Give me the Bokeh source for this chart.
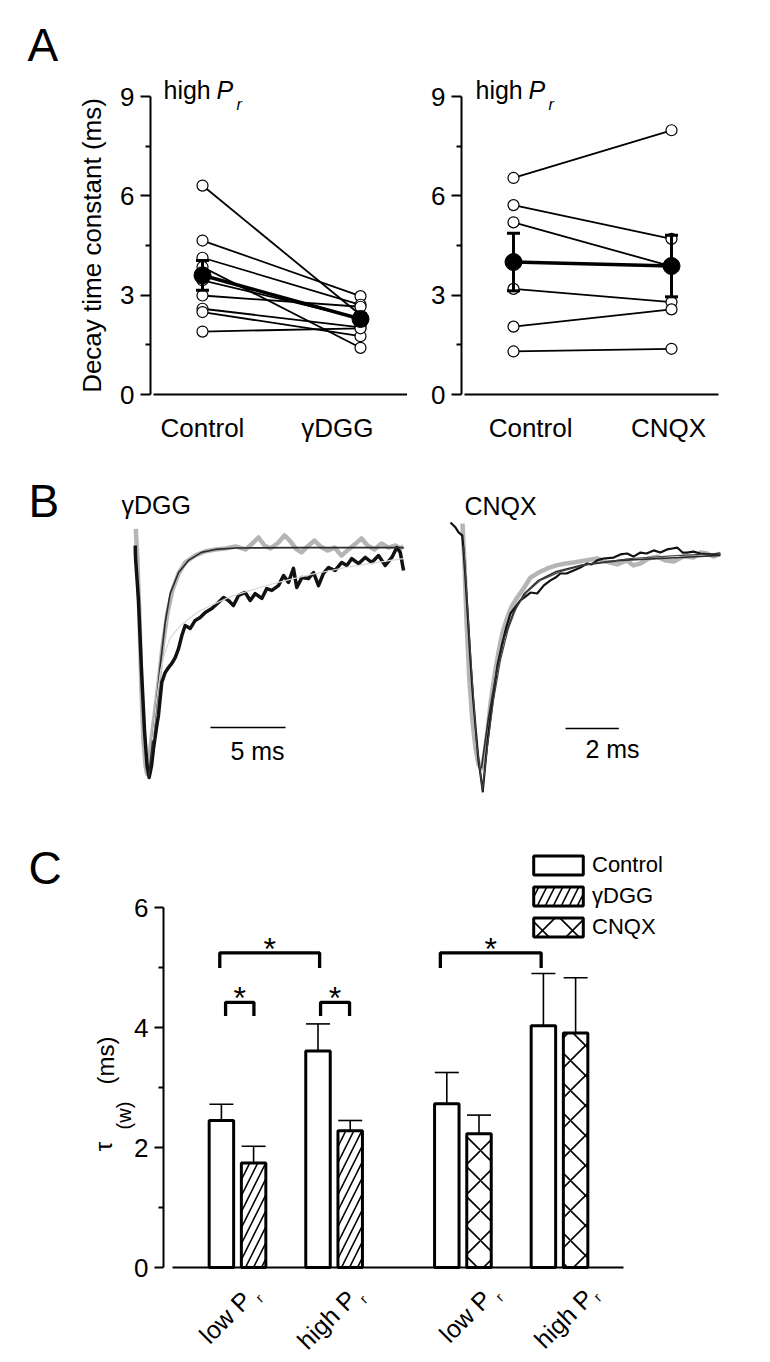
import math
from bokeh.plotting import figure
from bokeh.layouts import column, row
from bokeh.models import (Range1d, FixedTicker, Label, Whisker, TeeHead,
                          ColumnDataSource, Legend, LegendItem)
from bokeh.embed import file_html
from bokeh.resources import INLINE
from bokeh.core.properties import value

FONT = "Liberation Sans"

# ---------------- DATA ----------------
# Panel A (decay time constant, ms), paired cells
a_x = [0, 1]
a1_labels = ["Control", "\u03b3DGG"]
a1_control = [6.31, 4.65, 4.13, 3.85, 3.45, 2.99, 2.59, 2.49, 1.90]
a1_dgg = [2.40, 2.97, 2.71, 1.41, 2.30, 2.65, 2.03, 1.76, 2.00]
a1_mean = [3.60, 2.28]
a1_sem = [0.45, 0.16]

a2_labels = ["Control", "CNQX"]
a2_control = [6.54, 5.72, 5.20, 3.19, 2.05, 1.30]
a2_cnqx = [7.98, 4.70, 3.87, 2.79, 2.57, 1.38]
a2_mean = [4.00, 3.88]
a2_sem = [0.87, 0.93]

a_yticks = [0, 3, 6, 9]
a_yminor = [1.5, 4.5, 7.5]

# Panel B traces (time in ms, amplitude normalised to peak)
b1_ctrl_t = [0.02, 0.13, 0.27, 0.40, 0.53, 0.67, 0.77, 0.87, 1.00, 1.13, 1.33, 1.53, 1.80, 2.13, 2.47, 2.87,
             3.33, 4.00, 4.67, 5.33, 6.00, 6.67, 7.33, 7.80, 8.20, 8.60, 9.00, 9.53, 9.93, 10.33, 10.73, 11.07,
             11.47, 11.93, 12.33, 12.80, 13.27, 13.73, 14.20, 14.60, 15.07, 15.47, 15.93, 16.40, 16.87, 17.33,
             17.67, 17.87]
b1_ctrl_a = [0.086, -0.052, -0.314, -0.620, -0.838, -0.948, -0.983, -0.974, -0.870, -0.800, -0.700, -0.590,
             -0.430, -0.280, -0.180, -0.110, -0.060, -0.030, -0.012, -0.004, 0.0, 0.009, -0.004, 0.022, 0.048,
             0.013, 0.0, 0.026, 0.057, 0.031, -0.004, -0.017, 0.009, 0.035, 0.009, -0.009, 0.004, -0.031,
             -0.004, 0.017, 0.044, 0.013, -0.004, 0.022, 0.004, 0.013, 0.0, 0.009]
b1_ctrl_fit_t = [0.87, 1.09, 1.31, 1.65, 1.98, 2.31, 2.87, 3.53, 4.40, 5.33, 6.67, 11.0, 17.87]
b1_ctrl_fit_a = [-1.0, -0.873, -0.729, -0.511, -0.323, -0.197, -0.105, -0.052, -0.017, -0.004, 0.002, 0.004, 0.004]

b1_dgg_t = [-0.02, 0.0, 0.20, 0.40, 0.60, 0.77, 0.91, 1.07, 1.20, 1.42, 1.53, 1.75, 1.98, 2.20, 2.42, 2.65,
            2.87, 3.09, 3.31, 3.65, 3.98, 4.31, 4.65, 5.09, 5.53, 5.87, 6.20, 6.53, 6.87, 7.31, 7.65, 7.98,
            8.42, 8.75, 9.09, 9.53, 9.87, 10.20, 10.53, 10.75, 11.09, 11.53, 11.87, 12.20, 12.53, 12.87,
            13.31, 13.75, 14.09, 14.42, 14.87, 15.31, 15.75, 16.20, 16.65, 17.09, 17.42, 17.65, 17.87]
b1_dgg_a = [0.013, -0.039, -0.227, -0.533, -0.795, -0.948, -1.0, -0.948, -0.873, -0.773, -0.729, -0.585,
            -0.541, -0.520, -0.502, -0.476, -0.437, -0.380, -0.336, -0.349, -0.314, -0.301, -0.279, -0.262,
            -0.236, -0.214, -0.227, -0.249, -0.205, -0.192, -0.227, -0.197, -0.218, -0.175, -0.183, -0.162,
            -0.118, -0.148, -0.087, -0.170, -0.127, -0.131, -0.105, -0.162, -0.109, -0.083, -0.096, -0.061,
            -0.074, -0.044, -0.066, -0.039, -0.061, -0.031, -0.074, -0.039, 0.004, -0.017, -0.096]
b1_dgg_fit_t = [1.13, 1.40, 1.67, 2.0, 2.33, 3.0, 3.67, 4.33, 5.33, 6.33, 7.67, 9.0, 10.33, 11.67, 13.0,
                14.33, 15.67, 17.0, 17.87]
b1_dgg_fit_a = [-0.838, -0.664, -0.533, -0.445, -0.389, -0.336, -0.301, -0.271, -0.240, -0.210, -0.183,
                -0.157, -0.135, -0.114, -0.096, -0.079, -0.066, -0.052, -0.044]
b1_scalebar_ms = 5

b2_ctrl_t = [0.45, 0.52, 0.60, 0.71, 0.82, 0.94, 1.05, 1.16, 1.27, 1.39, 1.50, 1.65, 1.81, 1.95, 2.13, 2.29,
             2.50, 2.74, 3.00, 3.30, 3.63, 3.97, 4.31, 4.62, 5.06, 5.50, 5.85, 6.25, 6.62, 6.86, 7.12, 7.42,
             7.75, 8.06, 8.37, 8.74, 9.12, 9.37, 9.62, 9.86, 10.12]
b2_ctrl_a = [0.126, -0.029, -0.282, -0.534, -0.702, -0.819, -0.887, -0.903, -0.849, -0.744, -0.630, -0.513,
             -0.408, -0.332, -0.269, -0.223, -0.185, -0.147, -0.101, -0.080, -0.063, -0.050, -0.042, -0.038,
             -0.029, -0.021, -0.034, -0.046, -0.029, -0.050, -0.042, -0.021, -0.013, -0.029, -0.034, -0.013,
             -0.017, 0.004, 0.0, -0.013, 0.0]
b2_ctrl_fit_t = [1.16, 1.42, 1.72, 2.02, 2.36, 2.77, 3.30, 3.97, 4.87, 6.37, 8.62, 10.12]
b2_ctrl_fit_a = [-0.903, -0.693, -0.500, -0.353, -0.248, -0.168, -0.113, -0.076, -0.050, -0.029, -0.017, -0.008]

b2_cnqx_t = [0.0, 0.19, 0.31, 0.44, 0.49, 0.56, 0.66, 0.75, 0.84, 0.94, 1.05, 1.12, 1.21, 1.29, 1.38, 1.50,
             1.62, 1.76, 1.94, 2.10, 2.25, 2.44, 2.62, 2.81, 3.00, 3.25, 3.50, 3.75, 3.94, 4.12, 4.35, 4.62,
             4.87, 5.12, 5.29, 5.50, 5.74, 6.12, 6.37, 6.62, 6.86, 7.12, 7.35, 7.62, 7.87, 8.12, 8.32, 8.50,
             8.70, 8.87, 9.11, 9.37, 9.75, 10.12]
b2_cnqx_a = [0.130, 0.109, 0.088, 0.076, 0.013, -0.101, -0.282, -0.450, -0.597, -0.731, -0.870, -0.924, -1.0,
             -0.903, -0.798, -0.685, -0.588, -0.471, -0.378, -0.307, -0.252, -0.223, -0.197, -0.181, -0.164,
             -0.168, -0.134, -0.113, -0.101, -0.084, -0.084, -0.071, -0.059, -0.042, -0.046, -0.029, -0.021,
             -0.017, -0.004, 0.0, -0.013, 0.004, 0.0, 0.013, 0.004, 0.017, 0.021, 0.025, 0.004, 0.004, 0.008,
             0.0, -0.004, 0.0]
b2_cnqx_fit_t = [0.49, 0.60, 0.79, 0.97, 1.20, 1.39, 1.61, 1.87, 2.17, 2.47, 2.85, 3.37, 4.12, 5.25, 6.75,
                 8.62, 10.12]
b2_cnqx_fit_a = [0.034, -0.155, -0.492, -0.786, -0.996, -0.807, -0.618, -0.450, -0.315, -0.227, -0.164,
                 -0.113, -0.076, -0.042, -0.021, -0.008, 0.0]
b2_scalebar_ms = 2

# Panel C (tau_w, ms)
c_group_x = [0, 3, 7, 10]
c_group_labels = ["low P", "high P", "low P", "high P"]
c_control = [2.45, 3.61, 2.73, 4.03]
c_control_err = [0.27, 0.45, 0.52, 0.87]
c_dgg_groups = [0, 1]
c_dgg = [1.74, 2.28]
c_dgg_err = [0.28, 0.17]
c_cnqx_groups = [2, 3]
c_cnqx = [2.23, 3.91]
c_cnqx_err = [0.31, 0.92]
c_yticks = [0, 2, 4, 6]
c_yminor = [1, 3, 5]
# significance brackets: start, end, height, leg bottom
c_br_x0 = [-0.55, -0.37, 2.58, 6.30]
c_br_x1 = [2.55, 0.51, 3.48, 9.43]
c_br_top = [5.245, 4.42, 4.42, 5.245]
c_br_leg = [4.99, 4.19, 4.19, 4.99]

# ---------------- HELPERS ----------------
BASE_SHIFT = 0.39  # em offset of the rendered alphabetic baseline below the anchor


def lin(p0, s):
    return lambda px: (px - p0) / s


def linv(p0, s):
    return lambda py: (p0 - py) / s


def make_fig(canvas, xm, ym, axes=True):
    cl, ct, cr, cb = canvas
    p = figure(width=cr - cl, height=cb - ct,
               x_range=Range1d(xm(cl), xm(cr)), y_range=Range1d(ym(cb), ym(ct)),
               output_backend="svg", toolbar_location=None,
               x_axis_location="below" if axes else None,
               y_axis_location="left" if axes else None,
               min_border=0, min_border_left=0, min_border_right=0,
               min_border_top=0, min_border_bottom=0)
    p.outline_line_color = None
    for g in p.grid:
        g.visible = False
    p.background_fill_color = "white"
    p.border_fill_color = "white"
    return p


def lab(p, xm, ym, px, py, text, size, style="normal", align="left",
        baseline="alphabetic", angle=0.0):
    if baseline == "alphabetic":
        d = BASE_SHIFT * size
        px = px - d * math.sin(angle)
        py = py - d * math.cos(angle)
    p.add_layout(Label(x=xm(px), y=ym(py), text=text, text_font=FONT,
                       text_font_size=f"{size}px", text_font_style=style,
                       text_align=align, text_baseline=baseline, angle=angle,
                       text_color="black"))


def style_yaxis(ax, ticks, minor, size, tick_out, minor_out):
    ax.ticker = FixedTicker(ticks=ticks, minor_ticks=minor)
    ax.axis_line_width = 2
    ax.axis_line_color = "black"
    ax.major_tick_line_width = 2
    ax.minor_tick_line_width = 2
    ax.major_tick_line_color = "black"
    ax.minor_tick_line_color = "black"
    ax.major_tick_in = 0
    ax.minor_tick_in = 0
    ax.major_tick_out = tick_out
    ax.minor_tick_out = minor_out
    ax.major_label_text_font = FONT
    ax.major_label_text_font_size = size
    ax.major_label_text_color = "black"
    ax.major_label_standoff = 6
    ax.axis_label_text_font = FONT
    ax.axis_label_text_font_style = "normal"
    ax.axis_label_text_color = "black"


# ---------------- PANEL A ----------------
AY = linv(394, 298 / 9)


def panel_a(canvas, yaxis_px, xend_px, x0px, ctrl, drug, mean, sem, labels, label_pos, letter,
            high_px, ylabel):
    xm = lin(x0px, 158)
    p = make_fig(canvas, xm, AY)
    ya = p.yaxis[0]
    style_yaxis(ya, a_yticks, a_yminor, "26px", 10, 5)
    ya.fixed_location = xm(yaxis_px)
    ya.bounds = (0, 9)
    if ylabel:
        ya.axis_label = ylabel
        ya.axis_label_text_font_size = "26px"
        ya.axis_label_standoff = 10
    xa = p.xaxis[0]
    xa.fixed_location = 0
    xa.ticker = FixedTicker(ticks=label_pos)
    xa.major_label_overrides = {lp: lb for lp, lb in zip(label_pos, labels)}
    xa.major_tick_line_color = None
    xa.minor_tick_line_color = None
    xa.axis_line_width = 2
    xa.axis_line_color = "black"
    xa.bounds = (xm(yaxis_px + 3), xm(xend_px))
    xa.major_label_text_font = FONT
    xa.major_label_text_font_size = "26px"
    xa.major_label_text_color = "black"
    xa.major_label_standoff = 12

    n = len(ctrl)
    p.segment(x0=[a_x[0]] * n, y0=ctrl, x1=[a_x[1]] * n, y1=drug, line_width=1.8, line_color="black")
    p.scatter(x=[a_x[0]] * n, y=ctrl, size=11, fill_color="white", line_color="black", line_width=1.2)
    p.scatter(x=[a_x[1]] * n, y=drug, size=11, fill_color="white", line_color="black", line_width=1.2)
    p.line(x=a_x, y=mean, line_width=3.5, line_color="black")
    src = ColumnDataSource(dict(x=a_x, lo=[m - s for m, s in zip(mean, sem)],
                                hi=[m + s for m, s in zip(mean, sem)]))
    p.add_layout(Whisker(base="x", lower="lo", upper="hi", source=src, line_width=3,
                         line_color="black",
                         upper_head=TeeHead(size=13, line_width=3, line_color="black"),
                         lower_head=TeeHead(size=13, line_width=3, line_color="black"),
                         level="glyph"))
    p.scatter(x=a_x, y=mean, size=17, fill_color="black", line_color="black")

    if letter:
        lab(p, xm, AY, 27, 62, letter, 46)
    hx = high_px
    lab(p, xm, AY, hx, 99, "high", 25)
    lab(p, xm, AY, hx + 53, 99, "P", 25, style="italic")
    lab(p, xm, AY, hx + 73, 110, "r", 16, style="italic")
    return p


a1 = panel_a((0, 0, 407, 460), 150, 407, 202, a1_control, a1_dgg, a1_mean, a1_sem,
             a1_labels, [0, 0.854], "A", 163, "Decay time constant (ms)")
a2 = panel_a((407, 0, 768, 460), 461, 718, 513, a2_control, a2_cnqx, a2_mean, a2_sem,
             a2_labels, [0.108, 0.981], None, 475, None)

# ---------------- PANEL B ----------------
GRAY = "#b5b5b5"


def panel_b(canvas, x0px, pxms, y0px, pxamp, ctrl_t, ctrl_a, drug_t, drug_a, cfit_t, cfit_a,
            dfit_t, dfit_a, title, title_px, bar_ms, bar_px, bar_label, bar_label_px, letter, drug_w):
    xm = lin(x0px, pxms)
    ym = linv(y0px, pxamp)
    p = make_fig(canvas, xm, ym, axes=False)
    p.line(ctrl_t, ctrl_a, line_color=GRAY, line_width=4.5, line_join="round")
    p.line(drug_t, drug_a, line_color="#111111", line_width=drug_w, line_join="round")
    p.line(cfit_t, cfit_a, line_color="#2b2b2b", line_width=1.6)
    p.line(dfit_t, dfit_a, line_color="#444444" if drug_w < 3 else "#d8d8d8", line_width=1.2)
    bx = xm(bar_px[0])
    p.segment(x0=[bx], y0=[ym(bar_px[1])], x1=[bx + bar_ms], y1=[ym(bar_px[1])],
              line_color="black", line_width=1.6)
    lab(p, xm, ym, bar_label_px[0], bar_label_px[1], bar_label, 25, align="center")
    lab(p, xm, ym, title_px[0], title_px[1], title, 25)
    if letter:
        lab(p, xm, ym, 28, 518, letter, 46)
    return p


b1 = panel_b((0, 460, 410, 820), 135, 15, 548, 229, b1_ctrl_t, b1_ctrl_a, b1_dgg_t, b1_dgg_a,
             b1_ctrl_fit_t, b1_ctrl_fit_a, b1_dgg_fit_t, b1_dgg_fit_a, "\u03b3DGG", (121, 514),
             b1_scalebar_ms, (210, 727), "5 ms", (257, 760), "B", 3.5)
b2 = panel_b((410, 460, 768, 820), 450, 26.67, 553, 238, b2_ctrl_t, b2_ctrl_a, b2_cnqx_t, b2_cnqx_a,
             b2_ctrl_fit_t, b2_ctrl_fit_a, b2_cnqx_fit_t, b2_cnqx_fit_a, "CNQX", (464, 515),
             b2_scalebar_ms, (565, 728), "2 ms", (612, 758), None, 2.2)

# ---------------- PANEL C ----------------
CX = lin(237, 32.2)
CY = linv(1267, 60)
pc = make_fig((0, 820, 768, 1360), CX, CY)
ya = pc.yaxis[0]
style_yaxis(ya, c_yticks, c_yminor, "26px", 9, 5)
ya.fixed_location = CX(163)
ya.bounds = (0, 6)
xa = pc.xaxis[0]
xa.fixed_location = 0
xa.ticker = FixedTicker(ticks=[])
xa.major_tick_line_color = None
xa.minor_tick_line_color = None
xa.axis_line_width = 2
xa.axis_line_color = "black"
xa.bounds = (CX(172), CX(623))

BW = 0.76
ctrl_x = [g - 0.5 for g in c_group_x]
dgg_x = [c_group_x[i] + 0.5 for i in c_dgg_groups]
cnqx_x = [c_group_x[i] + 0.5 for i in c_cnqx_groups]

r_ctrl = pc.vbar(x=ctrl_x, top=c_control, width=BW, bottom=0, fill_color="white",
                 line_color="black", line_width=3)
r_dgg = pc.vbar(x=dgg_x, top=c_dgg, width=BW, bottom=0, fill_color="white", line_color="black",
                line_width=3, hatch_pattern="/", hatch_scale=16, hatch_weight=1.6, hatch_color="black")
r_cnqx = pc.vbar(x=cnqx_x, top=c_cnqx, width=BW, bottom=0, fill_color="white", line_color="black",
                 line_width=3, hatch_pattern="x", hatch_scale=30, hatch_weight=1.6, hatch_color="black")

for xs_, tops, errs in ((ctrl_x, c_control, c_control_err), (dgg_x, c_dgg, c_dgg_err),
                        (cnqx_x, c_cnqx, c_cnqx_err)):
    src = ColumnDataSource(dict(x=xs_, lo=tops, hi=[t + e for t, e in zip(tops, errs)]))
    pc.add_layout(Whisker(base="x", lower="lo", upper="hi", source=src, line_width=1.6,
                          line_color="black",
                          upper_head=TeeHead(size=24, line_width=1.6, line_color="black"),
                          lower_head=None))

pc.multi_line(xs=[[a, a, b, b] for a, b in zip(c_br_x0, c_br_x1)],
              ys=[[l, t, t, l] for t, l in zip(c_br_top, c_br_leg)],
              line_color="black", line_width=3.3)
pc.text(x=[(a + b) / 2 for a, b in zip(c_br_x0, c_br_x1)], y=[t + 0.065 for t in c_br_top],
        text=["*"] * len(c_br_x0), text_font=value(FONT), text_font_size="32px",
        text_align="center", text_baseline="alphabetic", text_color="black")

legend = Legend(items=[LegendItem(label="Control", renderers=[r_ctrl]),
                       LegendItem(label="\u03b3DGG", renderers=[r_dgg]),
                       LegendItem(label="CNQX", renderers=[r_cnqx])],
                location=(527, 420), glyph_width=62, glyph_height=24, label_height=24,
                spacing=5, padding=0, margin=0, label_standoff=3,
                label_text_font=FONT, label_text_font_size="22px", label_text_color="black",
                border_line_color=None, background_fill_alpha=0)
pc.add_layout(legend)

# x labels (rotated 45 degrees), "P" followed by a small subscript "r"
ends = [(253, 1302), (358, 1301), (493, 1301), (595, 1300)]
rpos = [(261, 1303), (365, 1304), (501, 1302), (599, 1302)]
for (ex, ey), (rx, ry), t in zip(ends, rpos, c_group_labels):
    lab(pc, CX, CY, ex, ey, t, 25, align="right", angle=math.pi / 4)
    lab(pc, CX, CY, rx, ry, "r", 14, align="left", angle=math.pi / 4)

# y label  tau_(w) (ms)
lab(pc, CX, CY, 103, 1146, "\u03c4", 24, align="center", baseline="middle", angle=math.pi / 2)
lab(pc, CX, CY, 123, 1115, "(w)", 20, align="center", baseline="middle", angle=math.pi / 2)
lab(pc, CX, CY, 105, 1060, "(ms)", 24, align="center", baseline="middle", angle=math.pi / 2)
lab(pc, CX, CY, 28, 885, "C", 46)

layout = column(row(a1, a2), row(b1, b2), pc)
open("out.html", "w").write(file_html(layout, INLINE))
